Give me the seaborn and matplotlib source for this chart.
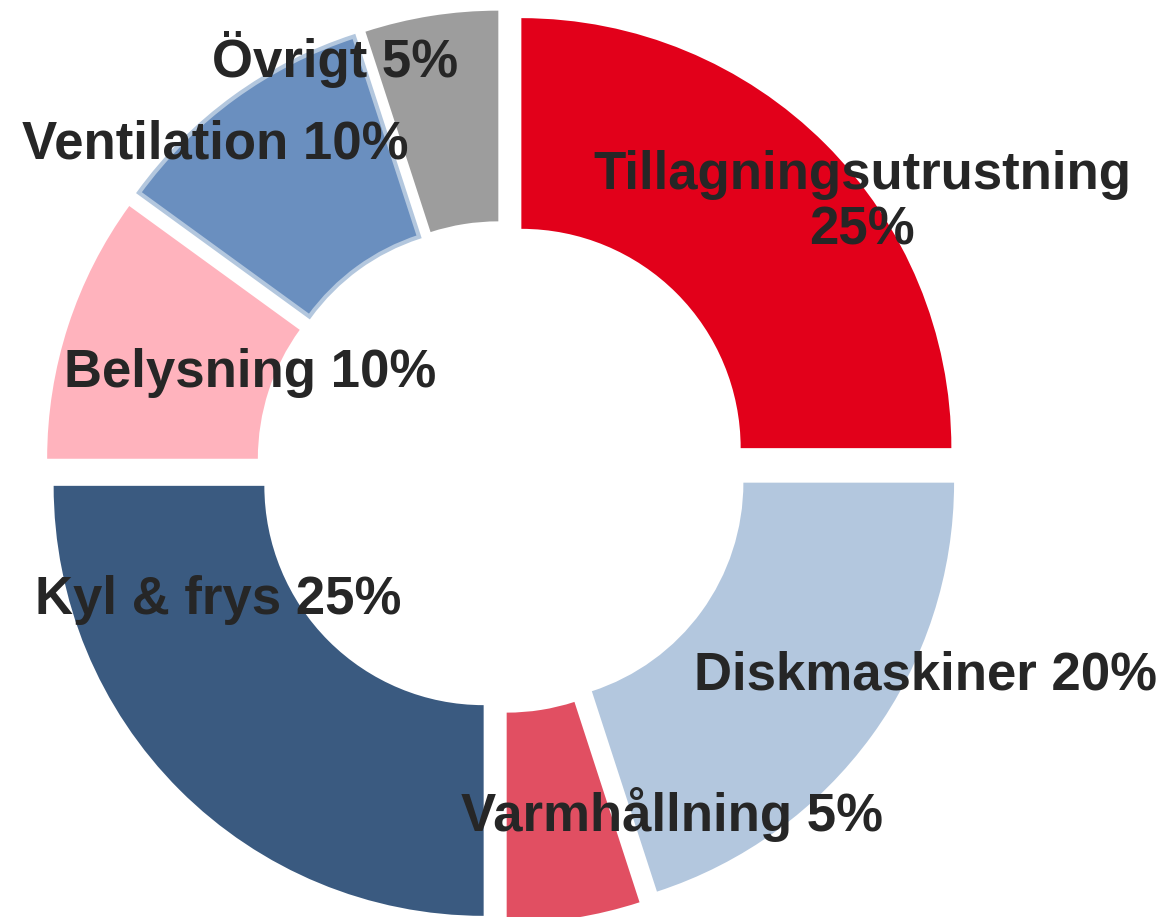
import matplotlib.pyplot as plt
import seaborn as sns

# Andel energianvändning per kategori (%), medurs från kl. 12
categories = ["Tillagningsutrustning", "Diskmaskiner", "Varmhållning", "Kyl & frys",
              "Belysning", "Ventilation", "Övrigt"]
shares = [25, 20, 5, 25, 10, 10, 5]
labels = ["Tillagningsutrustning\n25%", "Diskmaskiner 20%", "Varmhållning 5%",
          "Kyl & frys 25%", "Belysning 10%", "Ventilation 10%", "Övrigt 5%"]

colors = ["#E2001A", "#B3C7DE", "#E14F62", "#3A5A80", "#FFB3BD", "#6A8FBF", "#9D9D9D"]
# label centres (data units, radius = 1)
label_pos = [(0.836, 0.614), (0.983, -0.484), (0.394, -0.809), (-0.662, -0.309),
             (-0.587, 0.219), (-0.669, 0.749), (-0.390, 0.947)]

sns.set_theme(style="white")
plt.rcParams["font.family"] = ["Liberation Sans", "DejaVu Sans"]

fig = plt.figure(figsize=(11.66, 9.17), dpi=100)
ax = fig.add_axes([0, 0, 1, 1])

wedges, _ = ax.pie(shares, colors=colors, startangle=90, counterclock=False,
                   explode=[0.062] * len(shares),
                   wedgeprops=dict(width=0.49, linewidth=0, edgecolor="none"))
# Ventilation has a light outline
wedges[5].set_edgecolor("#B3C7DE")
wedges[5].set_linewidth(3)

for (x, y), lab in zip(label_pos, labels):
    ax.text(x, y, lab, ha="center", va="center", fontsize=38, fontweight="bold",
            color="#262626", linespacing=1.15)

ax.set_xlim(-1.1686, 1.543)
ax.set_ylim(-1.0465, 1.086)
ax.set_aspect("equal")
ax.axis("off")

fig.savefig("out.png", dpi=100)
